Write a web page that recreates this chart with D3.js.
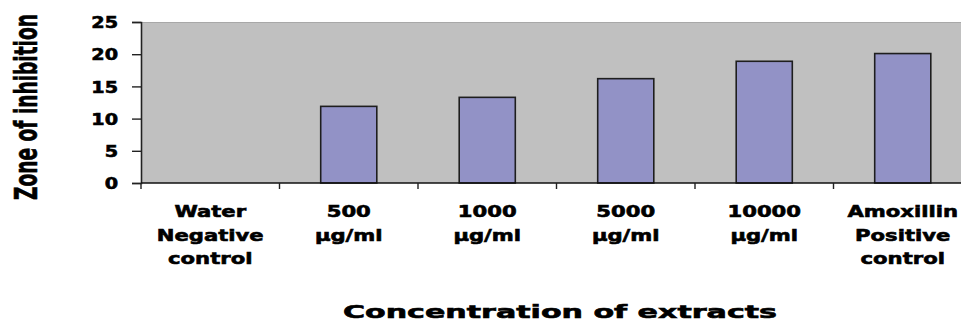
<!DOCTYPE html>
<html><head><meta charset="utf-8">
<script src="https://cdn.jsdelivr.net/npm/d3@7"></script>
<style>
html,body{margin:0;padding:0;background:#fff;overflow:hidden;}
svg{display:block;}
</style></head>
<body>
<svg id="chart" width="961" height="326"></svg>
<script>
// ---- data ----
const categories = ["Water\nNegative\ncontrol", "500\nµg/ml", "1000\nµg/ml", "5000\nµg/ml", "10000\nµg/ml", "Amoxillin\nPositive\ncontrol"];
const values = [0, 11.9, 13.3, 16.2, 18.9, 20.1];
const yTicks = [0, 5, 10, 15, 20, 25];
const yTitle = "Zone of inhibition";
const xTitle = "Concentration of extracts";

(function () {
const svg = d3.select("#chart");
const pL = 141, pT = 22, pB = 183, pR = 972;

const x = d3.scaleBand().domain(categories).range([pL, pR])
  .paddingInner(0.595).paddingOuter(0.2975);
const y = d3.scaleLinear().domain([0, 25]).range([pB, pT]);
const step = x.step();
const gap = (step - x.bandwidth()) / 2;

// plot area
svg.append("rect").attr("x", pL).attr("y", pT)
  .attr("width", pR - pL).attr("height", pB - pT)
  .attr("fill", "#c0c0c0");
svg.append("line").attr("x1", pL).attr("x2", pR).attr("y1", pT + 0.5).attr("y2", pT + 0.5)
  .attr("stroke", "#a8a8a8").attr("stroke-width", 1.2);

// bars
svg.selectAll("rect.bar").data(values).enter().append("rect")
  .attr("class", "bar")
  .attr("x", (d, i) => x(categories[i]))
  .attr("y", d => y(d))
  .attr("width", x.bandwidth())
  .attr("height", d => y(0) - y(d))
  .attr("fill", "#9292c6")
  .attr("stroke", "#1e1e1e")
  .attr("stroke-width", 1.6)
  .style("display", d => d > 0 ? null : "none");

// y axis
const yAxis = d3.axisLeft(y).tickValues(yTicks).tickSize(9).tickPadding(14).tickFormat(d3.format("d"));
const gy = svg.append("g").attr("transform", `translate(${pL},0)`).call(yAxis);
gy.select(".domain").attr("stroke", "#222").attr("stroke-width", 1.6);
gy.selectAll(".tick line").attr("stroke", "#222").attr("stroke-width", 1.4);
gy.selectAll(".tick text")
  .attr("font-family", "'DejaVu Sans', sans-serif")
  .attr("font-weight", "bold").attr("font-size", 16).attr("fill", "#000")
  .attr("stroke", "#000").attr("stroke-width", 0.6)
  .attr("dy", "0.36em");

// x axis line and ticks at category boundaries
svg.append("line").attr("x1", pL).attr("x2", pR).attr("y1", pB).attr("y2", pB)
  .attr("stroke", "#111").attr("stroke-width", 1.6);
svg.selectAll("line.xtick").data(categories).enter().append("line")
  .attr("class", "xtick")
  .attr("x1", d => x(d) - gap)
  .attr("x2", d => x(d) - gap)
  .attr("y1", pB).attr("y2", pB + 6)
  .attr("stroke", "#222").attr("stroke-width", 1.4);

// category labels
const lineGap = 23.5;
const catG = svg.selectAll("text.cat").data(categories).enter().append("text")
  .attr("class", "cat")
  .attr("font-family", "'DejaVu Sans', sans-serif")
  .attr("font-weight", "bold").attr("font-size", 16).attr("fill", "#000")
  .attr("stroke", "#000").attr("stroke-width", 0.6)
  .attr("text-anchor", "middle");
catG.each(function (d) {
  const t = d3.select(this);
  const cx = x(d) + x.bandwidth() / 2;
  d.split("\n").forEach((ln, k) => {
    t.append("tspan").attr("x", cx).attr("y", 217 + k * lineGap).text(ln);
  });
});
catG.selectAll("tspan").each(function () {
  const w = this.getComputedTextLength();
  d3.select(this).attr("textLength", w * 1.32).attr("lengthAdjust", "spacingAndGlyphs");
});
gy.selectAll(".tick text").each(function () {
  const w = this.getComputedTextLength();
  d3.select(this).attr("textLength", w * 1.2).attr("lengthAdjust", "spacingAndGlyphs");
});

// x title
svg.append("text").attr("x", 560).attr("y", 318)
  .attr("text-anchor", "middle")
  .attr("font-family", "'DejaVu Sans', sans-serif")
  .attr("font-weight", "bold").attr("font-size", 18).attr("fill", "#000")
  .attr("stroke", "#000").attr("stroke-width", 0.6)
  .attr("textLength", 434).attr("lengthAdjust", "spacingAndGlyphs")
  .text(xTitle);

// y title (narrow, tall): scale instead of textLength
const yt = svg.append("text")
  .attr("text-anchor", "middle")
  .attr("font-family", "'DejaVu Sans Condensed', 'Liberation Sans Narrow', sans-serif")
  .attr("font-weight", "bold").attr("font-size", 20).attr("fill", "#000")
  .attr("stroke", "#000").attr("stroke-width", 0.35)
  .text(yTitle);
const wy = yt.node().getComputedTextLength();
yt.attr("transform", `translate(37,107) rotate(-90) scale(${186 / wy},1.6)`);
})();
</script>
</body></html>
